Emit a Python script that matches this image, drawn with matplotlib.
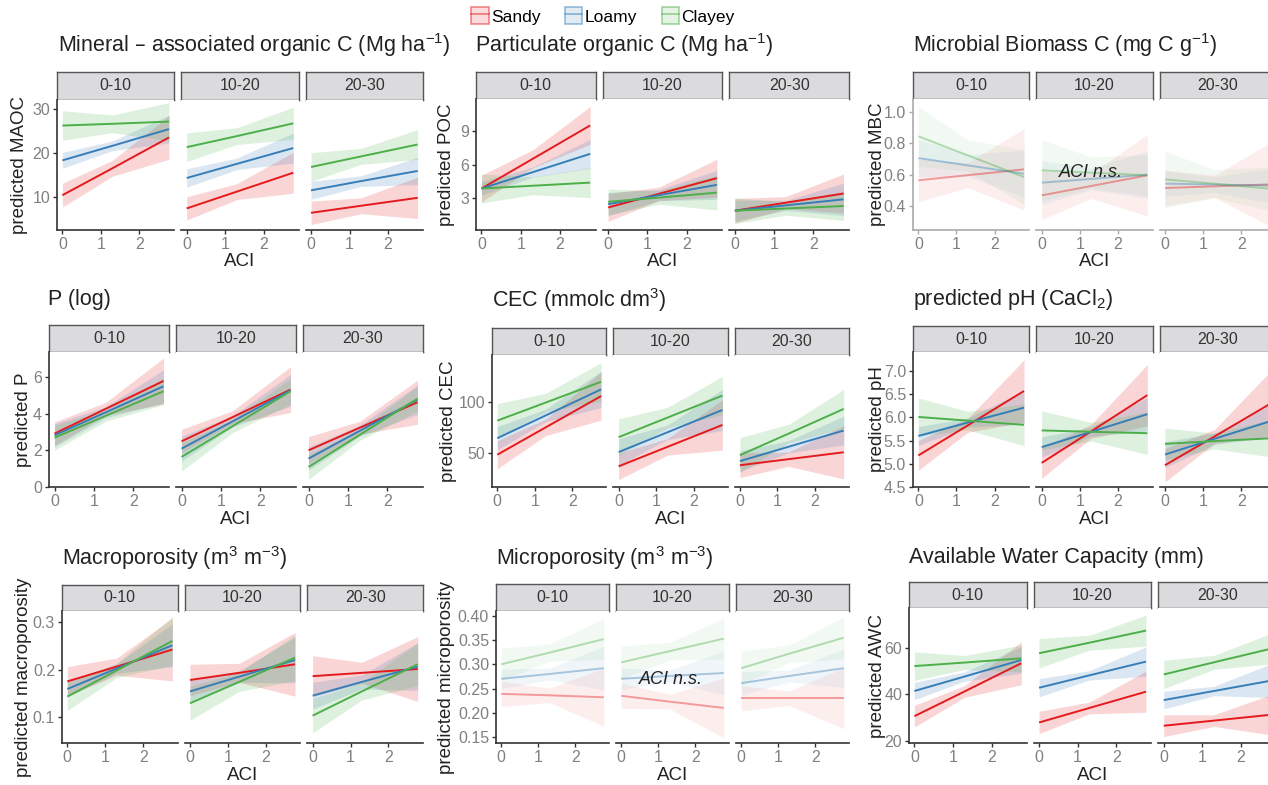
import numpy as np
import matplotlib.pyplot as plt
from matplotlib.patches import Patch
from matplotlib.lines import Line2D
from matplotlib.legend_handler import HandlerTuple
from matplotlib.colors import to_rgba

plt.rcParams['font.family'] = ['Liberation Sans', 'DejaVu Sans']
plt.rcParams['mathtext.default'] = 'regular'

W, H = 1268, 785

soils = ['Sandy', 'Loamy', 'Clayey']
colors = ['#E41A1C', '#377EB8', '#4DAF4A']
depths = ['0-10', '10-20', '20-30']
aci = [0.0, 1.3, 2.77]          # ACI values where fit / CI were read
xticks = [0, 1, 2]

# fitted values [depth][soil] at the aci points, and CI half-widths
maoc_fit = [[[10.4, 16.5, 23.5], [18.3, 21.6, 25.4], [26.2, 26.6, 27.1]],
            [[7.4, 11.2, 15.5], [14.3, 17.5, 21.1], [21.3, 23.8, 26.7]],
            [[6.4, 8.0, 9.8], [11.5, 13.6, 15.9], [16.8, 19.2, 21.9]]]
maoc_ci = [[[2.7, 1.8, 4.95], [1.8, 1.1, 3.15], [3.35, 2.0, 4.3]],
           [[2.65, 1.8, 4.65], [2.1, 1.3, 3.4], [3.25, 1.9, 3.65]],
           [[2.65, 1.8, 4.7], [2.05, 1.2, 3.1], [3.25, 1.8, 3.4]]]

poc_fit = [[[3.87, 6.52, 9.53], [3.87, 5.33, 6.98], [3.87, 4.12, 4.4]],
           [[2.17, 3.40, 4.8], [2.47, 3.28, 4.2], [2.68, 3.06, 3.5]],
           [[1.88, 2.60, 3.42], [1.88, 2.36, 2.9], [1.88, 2.08, 2.3]]]
poc_ci = [[[1.2, 0.8, 1.7], [0.6, 0.45, 1.3], [1.3, 0.8, 1.35]],
          [[1.25, 0.6, 1.7], [1.05, 0.5, 1.3], [1.15, 0.6, 1.55]],
          [[1.1, 0.55, 1.75], [0.95, 0.45, 1.45], [1.15, 0.6, 1.3]]]

mbc_fit = [[[0.564, 0.597, 0.634], [0.706, 0.659, 0.606], [0.845, 0.723, 0.585]],
           [[0.468, 0.528, 0.596], [0.549, 0.573, 0.60], [0.628, 0.613, 0.596]],
           [[0.515, 0.526, 0.538], [0.543, 0.537, 0.53], [0.57, 0.542, 0.51]]]
mbc_ci = [[[0.137, 0.08, 0.26], [0.12, 0.07, 0.15], [0.19, 0.1, 0.175]],
          [[0.155, 0.08, 0.26], [0.14, 0.07, 0.15], [0.195, 0.1, 0.13]],
          [[0.115, 0.07, 0.27], [0.08, 0.05, 0.11], [0.18, 0.09, 0.14]]]

p_fit = [[[2.91, 4.26, 5.78], [2.82, 4.07, 5.49], [2.69, 3.88, 5.22]],
         [[2.49, 3.81, 5.31], [2.09, 3.58, 5.27], [1.64, 3.32, 5.22]],
         [[2.0, 3.23, 4.62], [1.55, 3.06, 4.76], [1.09, 2.84, 4.82]]]
p_ci = [[[0.64, 0.35, 1.25], [0.63, 0.3, 0.9], [0.68, 0.3, 0.73]],
        [[0.65, 0.35, 1.25], [0.68, 0.3, 0.87], [0.77, 0.35, 0.7]],
        [[0.75, 0.35, 1.2], [0.63, 0.3, 0.8], [0.68, 0.3, 0.67]]]

cec_fit = [[[48.4, 75.2, 105.5], [64.5, 86.8, 112.0], [81.6, 99.3, 119.4]],
           [[37.1, 56.0, 77.4], [51.0, 70.2, 92.0], [65.5, 84.5, 106.0]],
           [[38.2, 44.1, 50.8], [42.2, 56.2, 72.0], [48.0, 69.0, 93.0]]]
cec_ci = [[[13.7, 8, 23.4], [11.3, 6, 17.7], [16.5, 9, 18.7]],
          [[12.9, 8, 24.5], [13.0, 7, 20.0], [17.8, 10, 18.6]],
          [[12.0, 7, 26.0], [10.0, 6, 14.0], [17.0, 9, 19.0]]]

ph_fit = [[[5.18, 5.83, 6.57], [5.6, 5.89, 6.21], [6.01, 5.93, 5.84]],
          [[5.02, 5.70, 6.48], [5.36, 5.69, 6.07], [5.72, 5.69, 5.66]],
          [[4.97, 5.59, 6.3], [5.2, 5.54, 5.92], [5.43, 5.49, 5.55]]]
ph_ci = [[[0.32, 0.15, 0.67], [0.2, 0.1, 0.36], [0.41, 0.2, 0.45]],
         [[0.33, 0.15, 0.66], [0.22, 0.1, 0.36], [0.42, 0.2, 0.46]],
         [[0.36, 0.15, 0.7], [0.28, 0.12, 0.35], [0.34, 0.17, 0.4]]]

macro_fit = [[[0.175, 0.206, 0.242], [0.159, 0.202, 0.251], [0.143, 0.198, 0.26]],
             [[0.178, 0.193, 0.211], [0.154, 0.185, 0.22], [0.129, 0.174, 0.225]],
             [[0.186, 0.193, 0.201], [0.145, 0.174, 0.206], [0.103, 0.154, 0.211]]]
macro_ci = [[[0.031, 0.018, 0.066], [0.016, 0.01, 0.045], [0.029, 0.015, 0.051]],
            [[0.033, 0.02, 0.067], [0.023, 0.012, 0.048], [0.036, 0.02, 0.048]],
            [[0.043, 0.022, 0.068], [0.028, 0.015, 0.05], [0.036, 0.018, 0.045]]]

micro_fit = [[[0.239, 0.236, 0.232], [0.27, 0.280, 0.292], [0.30, 0.324, 0.352]],
             [[0.235, 0.223, 0.21], [0.27, 0.276, 0.282], [0.304, 0.327, 0.353]],
             [[0.23, 0.23, 0.23], [0.261, 0.276, 0.292], [0.292, 0.322, 0.355]]]
micro_ci = [[[0.026, 0.015, 0.06], [0.02, 0.012, 0.045], [0.033, 0.018, 0.042]],
            [[0.026, 0.015, 0.062], [0.022, 0.012, 0.045], [0.034, 0.018, 0.042]],
            [[0.026, 0.015, 0.063], [0.024, 0.012, 0.04], [0.035, 0.018, 0.043]]]

awc_fit = [[[30.6, 41.2, 53.3], [41.4, 47.6, 54.7], [52.1, 53.6, 55.4]],
           [[27.9, 34.1, 41.1], [42.8, 48.1, 54.0], [57.6, 62.1, 67.3]],
           [[26.5, 28.7, 31.2], [37.5, 41.4, 45.8], [48.5, 53.7, 59.5]]]
awc_ci = [[[4.65, 2.5, 9.2], [3.7, 2.0, 5.7], [6.1, 3.0, 5.75]],
          [[4.8, 2.5, 8.8], [3.9, 2.0, 6.3], [6.3, 3.2, 6.65]],
          [[4.65, 2.5, 8.6], [3.8, 2.0, 7.2], [6.1, 3.0, 6.5]]]

panels = [
    dict(title='Mineral – associated organic C (Mg ha$^{-1}$)', ylab='predicted MAOC',
         fit=maoc_fit, ci=maoc_ci, ylim=(2.5, 32), yt=[10, 20, 30], ytl=['10', '20', '30'],
         box=(57, 423, 72, 100, 230), tx=58, ty=45, lx=20, ns=False),
    dict(title='Particulate organic C (Mg ha$^{-1}$)', ylab='predicted POC',
         fit=poc_fit, ci=poc_ci, ylim=(0.15, 11.9), yt=[3, 6, 9], ytl=['3', '6', '9'],
         box=(476, 849, 72, 99, 230), tx=475, ty=45, lx=447, ns=False),
    dict(title='Microbial Biomass C (mg C g$^{-1}$)', ylab='predicted MBC',
         fit=mbc_fit, ci=mbc_ci, ylim=(0.247, 1.083), yt=[0.4, 0.6, 0.8, 1.0],
         ytl=['0.4', '0.6', '0.8', '1.0'],
         box=(913, 1276, 72, 99, 230), tx=913, ty=45, lx=877, ns=True),
    dict(title='P (log)', ylab='predicted P',
         fit=p_fit, ci=p_ci, ylim=(0.0, 7.36), yt=[0, 2, 4, 6], ytl=['0', '2', '4', '6'],
         box=(49, 423, 325, 352, 487), tx=48, ty=300, lx=24, ns=False),
    dict(title='CEC (mmolc dm$^{3}$)', ylab='predicted CEC',
         fit=cec_fit, ci=cec_ci, ylim=(17, 145.5), yt=[50, 100], ytl=['50', '100'],
         box=(492, 849, 328, 355, 487), tx=492, ty=300, lx=448, ns=False),
    dict(title='predicted pH (CaCl$_{2}$)', ylab='predicted pH',
         fit=ph_fit, ci=ph_ci, ylim=(4.5, 7.41), yt=[4.5, 5.0, 5.5, 6.0, 6.5, 7.0],
         ytl=['4.5', '5.0', '5.5', '6.0', '6.5', '7.0'],
         box=(913, 1276, 326, 352, 487), tx=913, ty=300, lx=877, ns=False),
    dict(title='Macroporosity (m$^{3}$ m$^{-3}$)', ylab='predicted macroporosity',
         fit=macro_fit, ci=macro_ci, ylim=(0.0455, 0.323), yt=[0.1, 0.2, 0.3],
         ytl=['0.1', '0.2', '0.3'],
         box=(62, 423, 585, 611, 743), tx=62, ty=558, lx=24, ns=False),
    dict(title='Microporosity (m$^{3}$ m$^{-3}$)', ylab='predicted microporosity',
         fit=micro_fit, ci=micro_ci, ylim=(0.1376, 0.41), yt=[0.15, 0.20, 0.25, 0.30, 0.35, 0.40],
         ytl=['0.15', '0.20', '0.25', '0.30', '0.35', '0.40'],
         box=(496, 849, 584, 611, 743), tx=496, ty=558, lx=447, ns=True),
    dict(title='Available Water Capacity (mm)', ylab='predicted AWC',
         fit=awc_fit, ci=awc_ci, ylim=(19.1, 77), yt=[20, 40, 60], ytl=['20', '40', '60'],
         box=(909, 1276, 582, 608, 743), tx=909, ty=558, lx=877, ns=False),
]
ns_text = {2: (1.3, 0.615), 7: (1.35, 0.268)}

fig = plt.figure(figsize=(W / 100, H / 100), dpi=100)


def px_axes(x0, y0, x1, y1):
    return fig.add_axes([x0 / W, 1 - y1 / H, (x1 - x0) / W, (y1 - y0) / H])


gap = 7
for k, p in enumerate(panels):
    left, right, stop, ptop, pbot = p['box']
    fw = (right - left - 2 * gap) / 3
    spine_c = '#AAAAAA' if k == 2 else '#333333'
    for j in range(3):
        fl = left + j * (fw + gap)
        # strip
        sax = px_axes(fl, stop, fl + fw, ptop)
        sax.set_facecolor('#DBDBDD')
        sax.set_xticks([])
        sax.set_yticks([])
        for sp in sax.spines.values():
            sp.set_color('#555555')
            sp.set_linewidth(1.0)
        sax.text(0.5, 0.5, depths[j], ha='center', va='center', fontsize=11.5, color='#333333',
                 transform=sax.transAxes)
        # panel
        ax = px_axes(fl, ptop, fl + fw, pbot)
        ax.set_xlim(-0.14, 2.91)
        ax.set_ylim(*p['ylim'])
        la, ra = (0.4, 0.07) if p['ns'] else (1.0, 0.18)
        for s in range(3):
            f = np.array(p['fit'][j][s])
            c = np.array(p['ci'][j][s])
            ax.fill_between(aci, f - c, f + c, color=colors[s], alpha=ra, lw=0)
        for s in range(3):
            ax.plot(aci, p['fit'][j][s], color=colors[s], lw=1.4, alpha=la,
                    solid_capstyle='butt')
        for side in ['top', 'right']:
            ax.spines[side].set_visible(False)
        ax.spines['bottom'].set_color(spine_c)
        ax.spines['bottom'].set_linewidth(1.2)
        ax.spines['left'].set_color(spine_c)
        ax.spines['left'].set_linewidth(1.2)
        ax.set_xticks(xticks)
        ax.set_xticklabels([str(t) for t in xticks])
        ax.tick_params(direction='out', length=3, width=1, color=spine_c,
                       labelsize=11.5, labelcolor='#808080', pad=2)
        if j == 0:
            ax.set_yticks(p['yt'])
            ax.set_yticklabels(p['ytl'])
        else:
            ax.spines['left'].set_visible(False)
            ax.set_yticks([])
        if j == 1 and k in ns_text:
            ax.text(*ns_text[k], 'ACI n.s.', ha='center', va='center', fontsize=13,
                    style='italic', color='#222222')
    # titles and labels
    fig.text(p['tx'] / W, 1 - p['ty'] / H, p['title'], fontsize=15.5, ha='left',
             va='center', color='#222222')
    fig.text(p['lx'] / W, 1 - (ptop + pbot) / 2 / H, p['ylab'], fontsize=13.5,
             rotation=90, ha='center', va='center', color='#222222')
    fig.text((left + right) / 2 / W, 1 - (pbot + 32) / H, 'ACI', fontsize=13.5,
             ha='center', va='center', color='#222222')

handles = [(Patch(facecolor=to_rgba(c, 0.15), edgecolor=to_rgba(c, 0.5), lw=1.2),
            Line2D([], [], color=c, lw=1.3, alpha=0.5)) for c in colors]
fig.legend(handles=handles, labels=soils, handler_map={tuple: HandlerTuple(ndivide=1, pad=0)},
           loc='center', bbox_to_anchor=(603 / W, 1 - 16 / H), ncol=3, frameon=False,
           fontsize=12.5, handlelength=1.0, handleheight=1.1, columnspacing=1.4,
           handletextpad=0.15)

fig.savefig('out.png', dpi=100)
